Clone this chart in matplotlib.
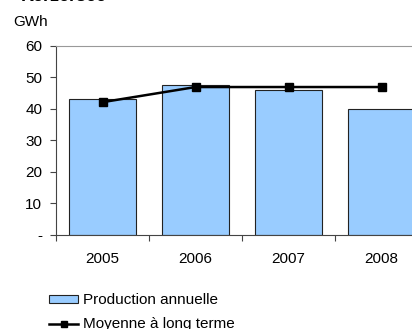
import numpy as np
import matplotlib
matplotlib.use("Agg")
import matplotlib.pyplot as plt
from matplotlib.patches import Patch
from matplotlib.lines import Line2D

plt.rcParams['font.family'] = ['Liberation Sans', 'DejaVu Sans']

# yearly production and long-term mean (GWh)
years = ['2005', '2006', '2007', '2008']
production = [43.0, 47.5, 46.0, 40.0]
moyenne = [42.1, 46.9, 46.9, 46.9]

fig = plt.figure(figsize=(4.12, 3.29), dpi=100)
ax = fig.add_axes([0.136, 0.286, 0.903, 0.575])

x = np.arange(len(years))
ax.bar(x, production, width=0.72, color='#99CCFF', edgecolor='#222222', linewidth=0.8, zorder=2)
ax.plot(x, moyenne, color='black', lw=1.8, marker='s', markersize=5.5, zorder=3)

ax.set_xlim(-0.5, 3.5)
ax.set_ylim(0, 60)
ax.set_yticks(np.arange(0, 61, 10))
ax.set_yticklabels(['-'] + [str(v) for v in range(10, 61, 10)], fontsize=11)
ax.set_xticks(np.arange(-0.5, 3.6, 1))
ax.set_xticklabels([])
ax.set_xticks(x, minor=True)
ax.set_xticklabels(years, minor=True, fontsize=11)
ax.tick_params(axis='x', which='minor', length=0, pad=12)
ax.tick_params(axis='x', which='major', length=4, color='#444444')
ax.tick_params(axis='y', length=4, color='#444444', pad=6)

ax.spines['top'].set_color('#999999')
ax.spines['right'].set_visible(False)
ax.spines['left'].set_color('#444444')
ax.spines['bottom'].set_color('#444444')

fig.text(0.032, 0.922, 'GWh', fontsize=11)
fig.text(0.05, 0.996, 'Kerzersee', fontsize=13, fontweight='bold')

handles = [Patch(facecolor='#99CCFF', edgecolor='#222222', linewidth=0.8),
           Line2D([0], [0], color='black', lw=1.8, marker='s', markersize=5)]
fig.legend(handles, ['Production annuelle', 'Moyenne à long terme'],
           loc='upper left', bbox_to_anchor=(0.12, 0.108), frameon=False,
           fontsize=11, handlelength=1.9, handleheight=0.5, handletextpad=0.3,
           labelspacing=0.65, borderaxespad=0, borderpad=0)

fig.savefig('out.png', dpi=100)
